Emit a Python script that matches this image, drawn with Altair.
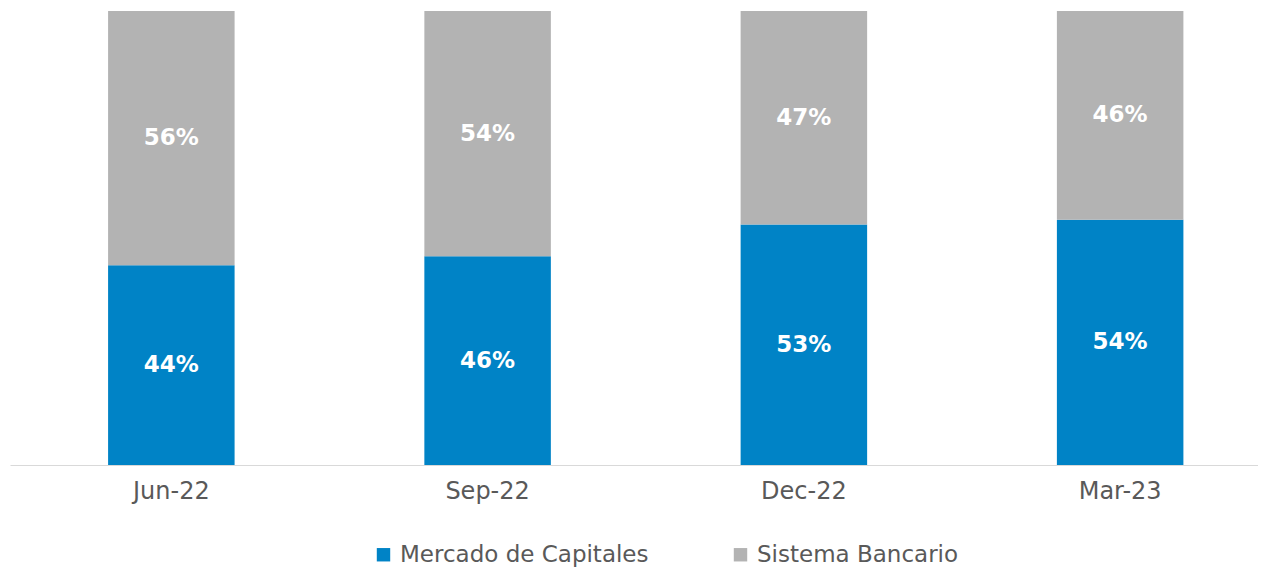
import altair as alt
import pandas as pd

periods = ["Jun-22", "Sep-22", "Dec-22", "Mar-23"]
series = ["Mercado de Capitales", "Sistema Bancario"]
mercado = [44, 46, 53, 54]
bancario = [56, 54, 47, 46]
colors = ["#0083C6", "#B3B3B3"]

rows = []
for i, p in enumerate(periods):
    rows.append({"period": p, "serie": series[0], "order": 0, "value": mercado[i]})
    rows.append({"period": p, "serie": series[1], "order": 1, "value": bancario[i]})
df = pd.DataFrame(rows)

FONT = "DejaVu Sans"

x = alt.X("period:N", sort=periods, title=None,
          scale=alt.Scale(paddingInner=0.6, paddingOuter=0.273, align=0.568),
          axis=alt.Axis(labelAngle=0, ticks=False, grid=False, domainColor="#d9d9d9",
                        domainWidth=1, labelColor="#595959", labelFontSize=24,
                        labelFont=FONT, labelPadding=14))

base = alt.Chart(df).transform_stack(
    stack="value", groupby=["period"], as_=["y0", "y1"],
    sort=[alt.SortField("order", order="ascending")]
).transform_calculate(mid="(datum.y0 + datum.y1) / 2", lab="datum.value + '%'")

bars = base.mark_bar().encode(
    x=x,
    y=alt.Y("y0:Q", scale=alt.Scale(domain=[0, 100], nice=False), axis=None),
    y2="y1:Q",
    color=alt.Color("serie:N", scale=alt.Scale(domain=series, range=colors),
                    legend=alt.Legend(title=None, orient="none", direction="horizontal",
                                      legendX=362, legendY=532, symbolType="square",
                                      symbolSize=180, symbolStrokeWidth=0,
                                      labelFontSize=23, labelFont=FONT, labelColor="#595959",
                                      labelLimit=0, labelOffset=5, columnPadding=80,
                                      padding=0)),
)

texts = base.mark_text(color="white", fontWeight="bold", fontSize=23, font=FONT).encode(
    x=alt.X("period:N", sort=periods),
    y=alt.Y("mid:Q"),
    text="lab:N",
)

chart = alt.layer(bars, texts).properties(
    width=1248, height=454,
    autosize=alt.AutoSizeParams(type="none"),
    padding={"left": 2, "top": 3, "right": 0, "bottom": 102},
).configure_view(stroke=None)

chart.save("out.html", embed_options={"renderer": "svg", "actions": False})
